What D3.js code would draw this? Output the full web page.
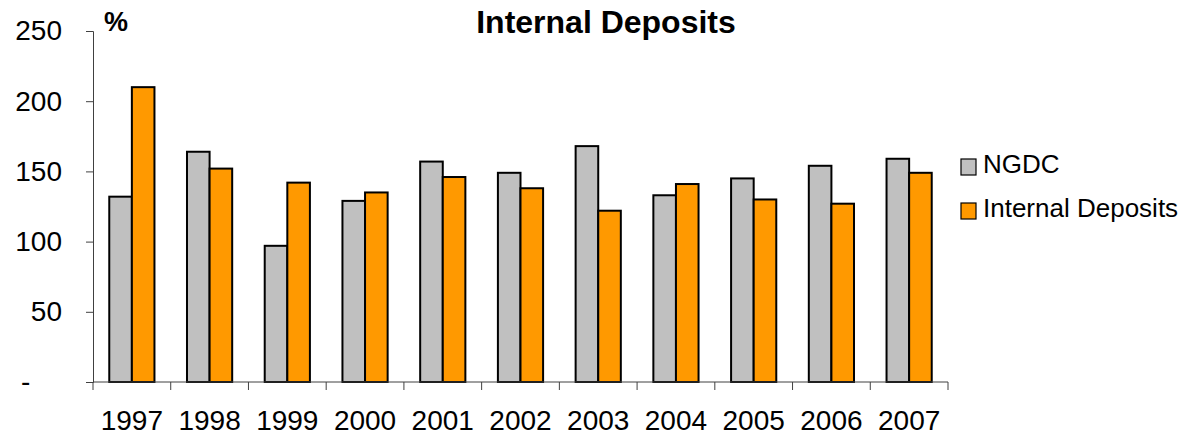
<!DOCTYPE html>
<html>
<head>
<meta charset="utf-8">
<script src="https://cdn.jsdelivr.net/npm/d3@7"></script>
<style>
  html, body { margin: 0; padding: 0; background: #fff; }
  svg { display: block; font-family: "Liberation Sans", Arial, sans-serif; }
</style>
</head>
<body>
<svg id="chart" width="1185" height="436"></svg>
<script>
// Chart data
const years = ["1997", "1998", "1999", "2000", "2001", "2002", "2003", "2004", "2005", "2006", "2007"];
const ngdc = [132, 164, 97, 129, 157, 149, 168, 133, 145, 154, 159];
const internalDeposits = [210, 152, 142, 135, 146, 138, 122, 141, 130, 127, 149];
const seriesNames = ["NGDC", "Internal Deposits"];
const seriesColors = ["#C0C0C0", "#FF9900"];
const yTicks = [0, 50, 100, 150, 200, 250];

const svg = d3.select("#chart");

const x = d3.scaleBand().domain(years).range([93, 948]).paddingInner(0).paddingOuter(0);
const y = d3.scaleLinear().domain([0, 250]).range([382, 31]);
const sub = d3.scaleBand().domain(seriesNames).range([0, x.bandwidth()]).paddingInner(0).paddingOuter(0.72);

const rows = years.map((yr, i) => ({ year: yr, values: [ngdc[i], internalDeposits[i]] }));

// Bars
const groups = svg.append("g").selectAll("g")
  .data(rows).join("g")
  .attr("transform", d => `translate(${x(d.year)},0)`);

groups.selectAll("rect")
  .data(d => d.values.map((v, k) => ({ name: seriesNames[k], value: v, color: seriesColors[k] })))
  .join("rect")
  .attr("x", d => sub(d.name))
  .attr("y", d => y(d.value))
  .attr("width", sub.bandwidth())
  .attr("height", d => y(0) - y(d.value))
  .attr("fill", d => d.color)
  .attr("stroke", "#000")
  .attr("stroke-width", 2);

// Y axis
const yAxis = svg.append("g")
  .attr("transform", "translate(93,0)")
  .call(d3.axisLeft(y).tickValues(yTicks).tickSize(7).tickPadding(24)
    .tickFormat(d => d === 0 ? "-" : d3.format("d")(d)));
yAxis.selectAll("path, line").attr("stroke", "#404040");
yAxis.selectAll("text")
  .attr("font-size", 28)
  .attr("fill", "#000")
  .attr("font-family", "Liberation Sans, Arial, sans-serif");
yAxis.selectAll(".tick").filter(d => d === 0).select("text")
  .attr("text-anchor", "start").attr("x", -72);

// X axis: line along zero with ticks at category boundaries
const xg = svg.append("g");
xg.append("line")
  .attr("x1", x.range()[0]).attr("x2", x.range()[1])
  .attr("y1", y(0)).attr("y2", y(0))
  .attr("stroke", "#404040");
const bounds = years.map(yr => x(yr)).concat([x.range()[1]]);
xg.selectAll("line.tk").data(bounds).join("line")
  .attr("class", "tk")
  .attr("x1", d => d).attr("x2", d => d)
  .attr("y1", y(0)).attr("y2", y(0) + 8)
  .attr("stroke", "#404040");
xg.selectAll("text").data(years).join("text")
  .attr("x", d => x(d) + x.bandwidth() / 2)
  .attr("y", 430)
  .attr("text-anchor", "middle")
  .attr("font-size", 28)
  .text(d => d);

// Title and unit
svg.append("text")
  .attr("x", 606).attr("y", 33)
  .attr("text-anchor", "middle")
  .attr("font-size", 32).attr("font-weight", "bold")
  .text("Internal Deposits");
svg.append("text")
  .attr("x", 104).attr("y", 31)
  .attr("font-size", 27).attr("font-weight", "bold")
  .text("%");

// Legend
const legend = svg.append("g");
const legendY = [159, 203];
seriesNames.forEach((name, k) => {
  legend.append("rect")
    .attr("x", 961).attr("y", legendY[k])
    .attr("width", 15).attr("height", 16)
    .attr("fill", seriesColors[k])
    .attr("stroke", "#000").attr("stroke-width", 1.2);
  legend.append("text")
    .attr("x", 983).attr("y", legendY[k] + 14)
    .attr("font-size", 26)
    .text(name);
});
</script>
</body>
</html>
